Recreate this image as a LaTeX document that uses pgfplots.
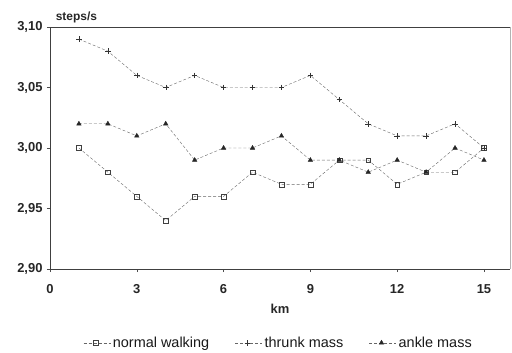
\documentclass[border=0pt]{standalone}
\usepackage{fontspec}
\setmainfont{Liberation Sans}
\usepackage{pgfplots}
\pgfplotsset{compat=1.18}
\begin{document}
\begin{tikzpicture}[x=1bp,y=1bp]
\begin{axis}[
  at={(0,0)}, anchor=south west,
  scale only axis,
  width=460bp, height=242bp,
  xmin=0, xmax=15.9,
  ymin=2.90, ymax=3.10,
  xtick={0,3,6,9,12,15},
  ytick={2.90,2.95,3.00,3.05,3.10},
  axis x line*=bottom, axis y line*=left,
  /pgf/number format/assume math mode=true,
  yticklabel style={xshift=-1bp, /pgf/number format/use comma, /pgf/number format/fixed, /pgf/number format/fixed zerofill, /pgf/number format/precision=2},
  ticklabel style={font=\bfseries\fontsize{13}{14}\selectfont, text=black!85},
  xticklabel style={yshift=-9bp},
  xlabel={\bfseries km}, xlabel style={font=\fontsize{13}{14}\selectfont, text=black!85, yshift=-4bp},
  axis line style={black!75, line width=0.8pt, -},
  tick style={black!70},
  tick align=outside,
  major tick length=3bp,
  clip=false,
  legend style={at={(0.497,-0.305)}, anchor=center, draw=none, legend columns=3,
    font=\fontsize{14.5}{16}\selectfont, text=black!90,
    /tikz/every even column/.append style={column sep=24bp}},
  legend image code/.code={\draw[mark repeat=2,mark phase=2] plot coordinates {(0bp,0bp) (12bp,0bp) (27bp,0bp)};},
]
\draw[black!75, line width=0.8pt] (rel axis cs:0,1) -- (rel axis cs:1,1);
\draw[black!30, line width=0.6pt] (rel axis cs:1,0) -- (rel axis cs:1,1);
\node[anchor=south west, font=\bfseries\fontsize{12}{13}\selectfont, text=black!85] at (rel axis cs:0.005,1.0) {steps/s};
\addplot[black!60, densely dashed, mark=square, mark size=2.4bp, mark options={solid, black!75}] coordinates {
 (1,3.00) (2,2.98) (3,2.96) (4,2.94) (5,2.96) (6,2.96) (7,2.98) (8,2.97) (9,2.97) (10,2.99) (11,2.99) (12,2.97) (13,2.98) (14,2.98) (15,3.00)};
\addlegendentry{normal walking}
\addplot[black!60, densely dashed, mark=+, mark size=2.8bp, mark options={solid, black!80}] coordinates {
 (1,3.09) (2,3.08) (3,3.06) (4,3.05) (5,3.06) (6,3.05) (7,3.05) (8,3.05) (9,3.06) (10,3.04) (11,3.02) (12,3.01) (13,3.01) (14,3.02) (15,3.00)};
\addlegendentry{thrunk mass}
\addplot[black!60, densely dashed, mark=triangle*, mark size=2.6bp, mark options={solid, fill=black!85, draw=black!85}] coordinates {
 (1,3.02) (2,3.02) (3,3.01) (4,3.02) (5,2.99) (6,3.00) (7,3.00) (8,3.01) (9,2.99) (10,2.99) (11,2.98) (12,2.99) (13,2.98) (14,3.00) (15,2.99)};
\addlegendentry{ankle mass}
\end{axis}
\path (-50,-81) rectangle (462,269);
\end{tikzpicture}
\end{document}
